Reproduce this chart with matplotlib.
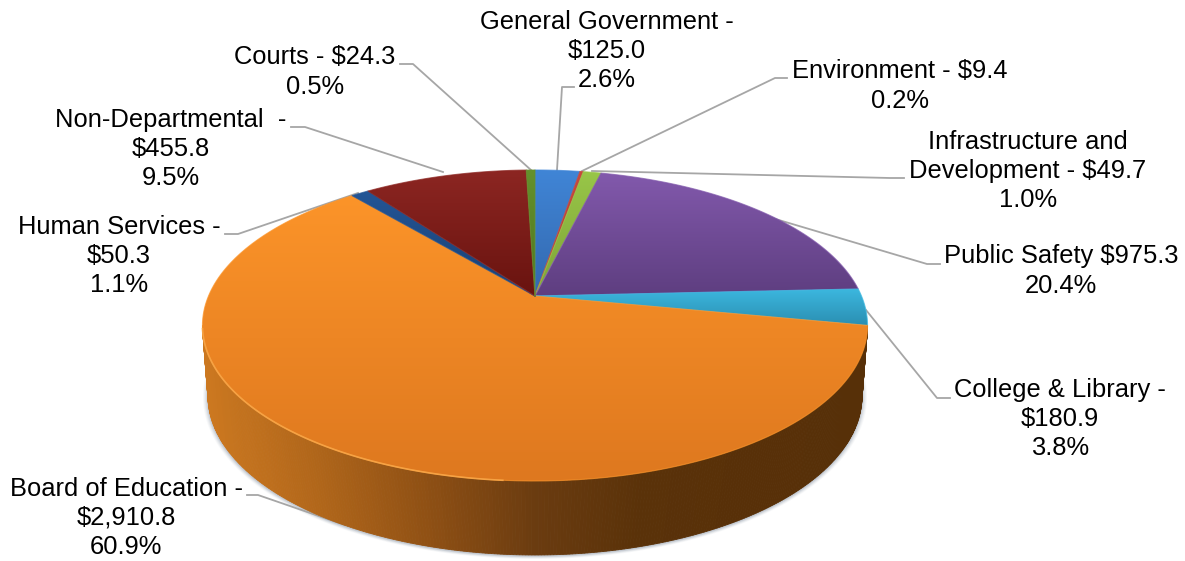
import numpy as np
import matplotlib
matplotlib.use('Agg')
import matplotlib.pyplot as plt
from matplotlib.colors import LinearSegmentedColormap
from matplotlib.patches import Polygon

plt.rcParams['font.family'] = ['Liberation Sans', 'DejaVu Sans']

# slices, clockwise from 12 o'clock
amounts = [125.0, 9.4, 49.7, 975.3, 180.9, 2910.8, 50.3, 455.8, 24.3]
top_colors = ['#4085d6', '#c8483e', '#98c648', '#8259ac', '#3cb8e0', '#fc9429', '#235596', '#8c2622', '#64912c']
low_colors = ['#3368ae', '#a83a32', '#7ea338', '#5e3e80', '#2b8fb2', '#de781f', '#1a4072', '#69130f', '#4f7522']
side_colors = ['#cc7820', '#b0661a', '#8f5014', '#6b3c10', '#5a3209', '#583008', '#573008']

labels = ['General Government -\n$125.0\n2.6%',
          'Environment - $9.4\n0.2%',
          'Infrastructure and\nDevelopment - $49.7\n1.0%',
          'Public Safety $975.3\n20.4%',
          'College & Library -\n$180.9\n3.8%',
          'Board of Education -\n$2,910.8\n60.9%',
          'Human Services -\n$50.3\n1.1%',
          'Non-Departmental  -\n$455.8\n9.5%',
          'Courts - $24.3\n0.5%']
label_x = [607, 900, 1028, 1061, 1060, 126, 119, 171, 315]
label_y = [51, 86, 171, 271, 419, 518, 256, 149, 72]

# leader lines, label end -> elbow -> pie rim
leader_x = [[574, 562, 557], [787, 775, 582], [904, 890, 592], [940, 927, 735], [950, 937, 866],
            [247, 258, 345], [225, 238, 358], [291, 305, 443], [400, 413, 531]]
leader_y = [[87, 87, 170], [78, 78, 171], [178, 178, 171], [264, 264, 207], [398, 398, 310],
            [495, 495, 525], [234, 234, 193], [127, 127, 172], [64, 64, 170]]

W, H = 1185, 561
APEX_X, APEX_Y = 535.0, 296.0
# perspective of the unit circle onto the top face
PERSP, SCALE_X, SCALE_Y = 0.1897, 326.5, 149.9
# bottom rim ellipse
LOW_CY, LOW_RX, LOW_RY = 396.0, 327.0, 159.0


def top_rim(t):
    """Pixel position of the top face rim at angle t (radians)."""
    d = 1 + PERSP * np.sin(t)
    return APEX_X + SCALE_X * np.cos(t) / d, APEX_Y - SCALE_Y * np.sin(t) / d


def low_rim(t):
    return APEX_X + LOW_RX * np.cos(t), LOW_CY - LOW_RY * np.sin(t)


def gradient_fill(ax, xs, ys, colors, zorder):
    """Fill a polygon with a top to bottom gradient."""
    cmap = LinearSegmentedColormap.from_list('g', colors)
    data = np.linspace(0, 1, 256)[:, None]
    im = ax.imshow(data, cmap=cmap, extent=(min(xs), max(xs), max(ys), min(ys)), aspect='auto',
                   origin='upper', interpolation='bilinear', zorder=zorder)
    im.set_clip_path(Polygon(np.column_stack([xs, ys]), closed=True, transform=ax.transData))
    # soft edge, image clipping is not antialiased
    ax.plot(list(xs) + [xs[0]], list(ys) + [ys[0]], color=colors[0], lw=0.8, alpha=0.7,
            solid_joinstyle='round', zorder=zorder)


fig = plt.figure(figsize=(W / 100, H / 100), dpi=100)
ax = fig.add_axes([0, 0, 1, 1])

# soft shadow round the bottom rim
t_all = np.linspace(0, 2 * np.pi, 360)
for grow, alpha in zip([5, 4, 3, 2, 1], [0.05, 0.07, 0.09, 0.12, 0.16]):
    ax.fill(APEX_X + (LOW_RX + grow) * np.cos(t_all), LOW_CY + 1 + (LOW_RY + grow * 0.6) * np.sin(t_all),
            color='#6f7f90', alpha=alpha, lw=0, zorder=0)

# leader lines
for lx, ly in zip(leader_x, leader_y):
    ax.plot(lx, ly, color='#a6a6a6', lw=1.3, zorder=1)

# side wall, only the big slice shows it; strips shaded by position
t_edge = np.arcsin(PERSP)
t_up = np.linspace(-t_edge, -np.pi + t_edge, 331)
t_low = np.linspace(0, -np.pi, 331)
ux, uy = top_rim(t_up)
bx, by = low_rim(t_low)
side_cmap = LinearSegmentedColormap.from_list('side', side_colors)
for i in range(len(t_up) - 1):
    c = side_cmap((ux[i] - 203) / 665.0)
    ax.fill([ux[i], ux[i + 1], bx[i + 1], bx[i]], [uy[i], uy[i + 1], by[i + 1], by[i]],
            facecolor=c, edgecolor=c, lw=0.6, zorder=2)

# top face
shares = np.array(amounts) / np.sum(amounts)
edges = np.pi / 2 - 2 * np.pi * np.concatenate([[0], np.cumsum(shares)])
for i in range(len(amounts)):
    t = np.linspace(edges[i], edges[i + 1], max(3, int(shares[i] * 500)))
    rx, ry = top_rim(t)
    xs = np.concatenate([[APEX_X], rx])
    ys = np.concatenate([[APEX_Y], ry])
    gradient_fill(ax, xs, ys, [top_colors[i], low_colors[i]], 3 + 0.01 * i)

# light bevel along the front rim, left half
t_bevel = np.linspace(-np.pi / 2 - 0.08, -np.pi + t_edge + 0.02, 120)
ax.plot(*top_rim(t_bevel), color='#f6a244', lw=1.2, zorder=4)

for text, x, y in zip(labels, label_x, label_y):
    ax.text(x, y, text, ha='center', va='center', fontsize=18.35, color='black',
            linespacing=1.27, parse_math=False, zorder=5)

ax.set_xlim(0, W)
ax.set_ylim(H, 0)
ax.axis('off')
fig.savefig('out.png', dpi=100, facecolor='white')
